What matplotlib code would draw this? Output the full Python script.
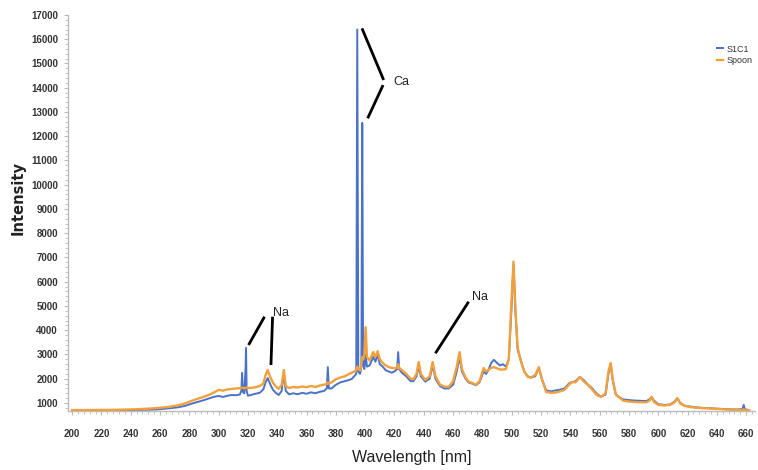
import matplotlib
matplotlib.use("Agg")
import matplotlib.pyplot as plt
from matplotlib.ticker import MultipleLocator

# ---- data ----
wavelength = [200, 210, 220, 230, 240, 250, 258, 266, 272, 277, 282, 286, 290, 294, 297,
              300, 303, 306, 309, 312, 314.5, 315.5, 316, 316.6, 317.5, 318.4, 318.7, 319.1,
              320, 322, 325, 328, 330.5, 332, 333.5, 335, 337, 339, 341, 343, 344.5, 345.8,
              348, 351, 354, 357, 360, 363, 366, 369, 372, 373.8, 374.5, 375.2, 377, 380,
              383, 386, 389, 391, 393.9, 394.6, 395.3, 396.5, 397.4, 398.0, 398.6, 399.4,
              400.3, 401.2, 403, 405.5, 407, 408.5, 410, 412, 414, 416, 418, 420, 421.8,
              422.5, 423.2, 425, 428, 431, 433, 435, 436.5, 438, 441, 444, 446, 448, 451,
              454, 457, 460, 462.5, 464.4, 466, 468.5, 470.5, 473, 475.5, 478, 480.8, 482.5,
              484, 486, 487.8, 490, 492, 494, 496, 498, 499.5, 501.2, 502.5, 504, 506,
              508.5, 511, 513, 516, 518.5, 520.5, 523.5, 527, 530, 533, 536, 539, 541,
              543.5, 546.5, 549, 552, 555, 558, 561, 564, 566, 567.5, 569, 571, 573, 576,
              580, 584, 588, 592, 594, 595.5, 597, 600, 604, 608, 611, 613, 615, 618, 622,
              626, 630, 636, 642, 648, 654, 657.5, 658.3, 659, 662]

s1c1 = [700, 700, 700, 705, 710, 720, 735, 780, 820, 880, 980, 1050, 1120, 1200, 1260,
        1290, 1250, 1300, 1330, 1320, 1350, 1500, 2240, 1450, 1400, 2500, 3270, 1500,
        1300, 1330, 1380, 1420, 1560, 1850, 2030, 1800, 1550, 1420, 1330, 1500, 2250, 1500,
        1360, 1400, 1360, 1420, 1380, 1440, 1400, 1460, 1500, 1600, 2480, 1600, 1600, 1750,
        1850, 1900, 1950, 2000, 2200, 16400, 2300, 2200, 2500, 12550, 2600, 2400,
        3000, 2500, 2550, 2900, 2700, 3000, 2600, 2500, 2350, 2300, 2250, 2300, 2400,
        3100, 2400, 2250, 2100, 1900, 1900, 2100, 2500, 2100, 1880, 2000, 2550, 2000, 1700,
        1600, 1600, 1750, 2300, 2900, 2300, 2000, 1850, 1800, 1730, 1850, 2300, 2200,
        2350, 2650, 2780, 2650, 2550, 2600, 2500, 2800, 4500, 6700, 4800, 3200, 2800,
        2300, 2100, 2050, 2100, 2450, 2000, 1520, 1480, 1520, 1550, 1600, 1800, 1850,
        1900, 2080, 1950, 1760, 1600, 1380, 1260, 1350, 2200, 2600, 1900, 1350, 1250, 1150,
        1120, 1100, 1090, 1080, 1150, 1250, 1100, 950, 920, 940, 1050, 1200, 1000, 890, 850,
        820, 800, 780, 760, 740, 730, 760, 920, 740, 710]

spoon = [710, 710, 715, 720, 735, 760, 790, 840, 900, 980, 1100, 1180, 1260, 1350, 1440,
         1540, 1510, 1560, 1580, 1600, 1610, 1620, 1640, 1620, 1610, 1630, 1640, 1650,
         1620, 1620, 1650, 1700, 1800, 2150, 2360, 2100, 1850, 1680, 1580, 1750, 2360, 1700,
         1620, 1660, 1640, 1680, 1650, 1700, 1660, 1720, 1760, 1780, 1850, 1800, 1850, 1980,
         2050, 2100, 2200, 2250, 2350, 2500, 2400, 2350, 2600, 2900, 2800, 3000,
         4130, 2900, 2750, 3100, 2900, 3140, 2800, 2650, 2550, 2480, 2450, 2430, 2450,
         2600, 2450, 2360, 2200, 2000, 1980, 2200, 2690, 2200, 1950, 2100, 2690, 2100, 1760,
         1680, 1660, 1900, 2500, 3100, 2400, 2050, 1880, 1830, 1750, 1900, 2440, 2300,
         2360, 2450, 2480, 2430, 2380, 2380, 2400, 2800, 4800, 6830, 4900, 3300, 2770,
         2300, 2070, 2050, 2150, 2480, 2000, 1450, 1420, 1430, 1480, 1540, 1750, 1870,
         1850, 2070, 1900, 1740, 1550, 1330, 1250, 1400, 2300, 2650, 1950, 1350, 1250, 1100,
         1060, 1040, 1030, 1030, 1100, 1250, 1050, 920, 900, 920, 1020, 1200, 980, 880, 830,
         800, 790, 770, 750, 730, 720, 720, 740, 715, 700]

series_names = ["S1C1", "Spoon"]
x_ticks = list(range(200, 661, 20))
y_ticks = list(range(1000, 17001, 1000))

# annotations: (label, text position, list of leader segments) in data units
annotations = [
    ("Ca", (419, 14250), [((397.8, 16450), (412.6, 14320)), ((412.2, 14110), (401.7, 12740))]),
    ("Na", (337.1, 4711), [((331.3, 4559), (320.4, 3392)), ((336.8, 4559), (335.7, 2567))]),
    ("Na", (473.0, 5383), [((470.6, 5177), (447.9, 3049))]),
]

# ---- figure ----
fig = plt.figure(figsize=(7.58, 4.70), dpi=100)
ax = fig.add_axes([67.7 / 758, 1 - 411 / 470, (755 - 67.7) / 758, (411 - 15) / 470])

narrow = ["Liberation Sans", "DejaVu Sans"]
blue = "#4A72C8"
orange = "#F2A03C"

ax.plot(wavelength, s1c1, color=blue, lw=1.4, label=series_names[0], zorder=2)
ax.plot(wavelength, spoon, color=orange, lw=1.7, label=series_names[1], zorder=3)

ax.set_xlim(197, 666)
ax.set_ylim(670, 17000)
ax.set_xticks(x_ticks)
ax.set_yticks(y_ticks)
ax.xaxis.set_minor_locator(MultipleLocator(4))
ax.yaxis.set_minor_locator(MultipleLocator(200))
ax.tick_params(axis="both", which="major", length=3, color="#bbbbbb", labelsize=7, width=0.8)
ax.tick_params(axis="both", which="minor", length=2, color="#bbbbbb", width=0.6)
ax.tick_params(axis="x", pad=10)
ax.tick_params(axis="y", pad=4)
for lab in ax.get_xticklabels() + ax.get_yticklabels():
    lab.set_family(narrow)
    lab.set_fontweight("bold")
    lab.set_color("#333333")

for s in ["top", "right"]:
    ax.spines[s].set_visible(False)
for s in ["left", "bottom"]:
    ax.spines[s].set_color("#bbbbbb")
    ax.spines[s].set_linewidth(1.0)

ax.set_xlabel("Wavelength [nm]", family=narrow, fontsize=11.5, color="#222222", labelpad=8)
fig.text(18 / 758, 1 - 198 / 470, "Intensity", rotation=90, ha="center", va="center",
         fontsize=10.5, fontweight="bold", color="#222222", family="DejaVu Sans")

for text, (tx, ty), segs in annotations:
    for (x0, y0), (x1, y1) in segs:
        ax.plot([x0, x1], [y0, y1], color="black", lw=2.0, solid_capstyle="butt", zorder=4)
    ax.text(tx, ty, text, family=narrow, fontsize=9, va="center", ha="left", color="#222222")

leg = ax.legend(loc="upper left", bbox_to_anchor=(712 / 758, 1 - 40 / 470),
                bbox_transform=fig.transFigure, frameon=False, fontsize=6.5,
                handlelength=0.7, handletextpad=0.4, labelspacing=0.3, borderpad=0)
for t in leg.get_texts():
    t.set_family(narrow)
    t.set_color("#333333")

fig.savefig("out.png", dpi=100)
